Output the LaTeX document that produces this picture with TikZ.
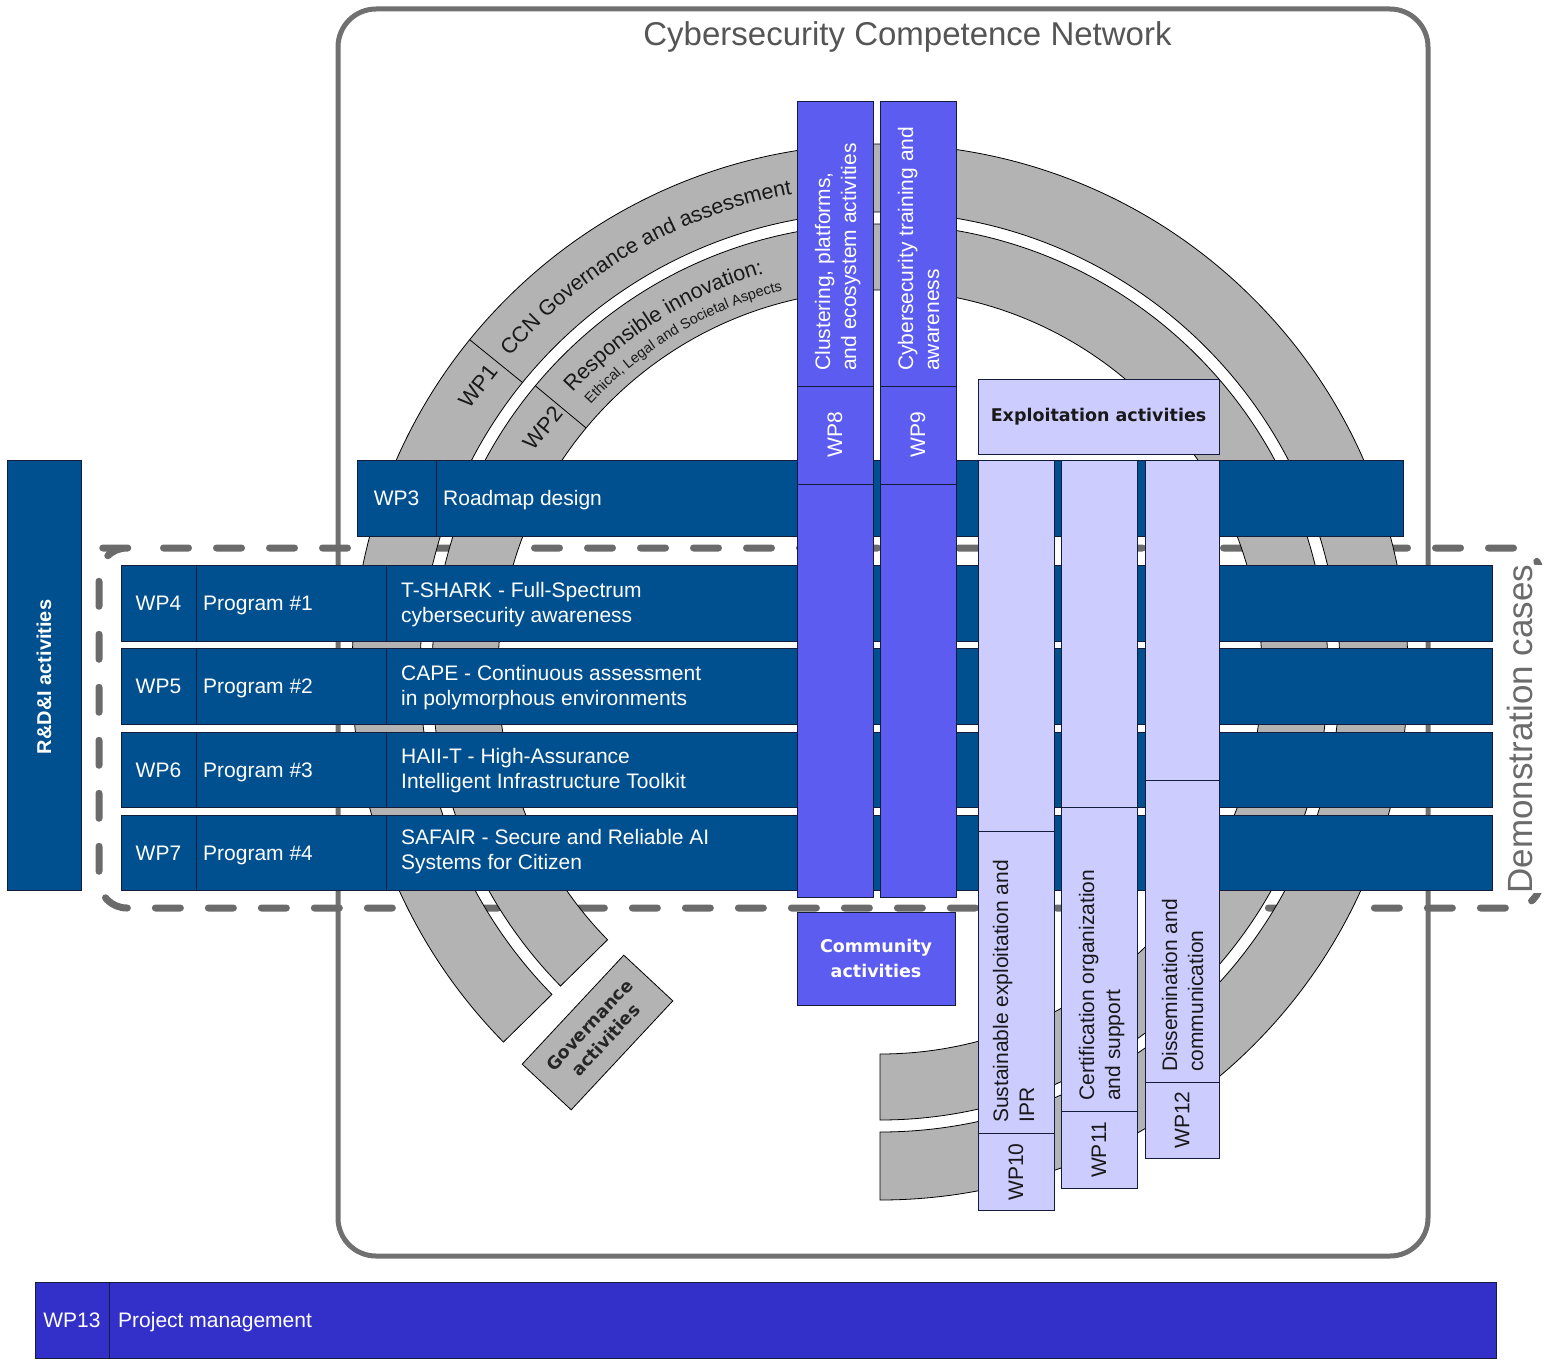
\documentclass[tikz,border=0pt]{standalone}
\usepackage{fontspec}
\setmainfont{Liberation Sans}
\newfontfamily\djfont{DejaVu Sans}
\usetikzlibrary{decorations.text}
\definecolor{dkblue}{RGB}{0,80,143}
\definecolor{midblue}{RGB}{92,92,240}
\definecolor{lav}{RGB}{204,204,255}
\definecolor{pmblue}{RGB}{50,48,200}
\definecolor{bandgray}{RGB}{179,179,179}
\definecolor{edge}{RGB}{20,28,60}
\definecolor{framegray}{RGB}{112,112,112}
\definecolor{titlegray}{RGB}{85,85,85}
\definecolor{dashgray}{RGB}{107,107,107}
\newcommand\barf{\fontsize{21pt}{25pt}\selectfont}
\newcommand\titlef{\fontsize{33pt}{33pt}\selectfont}
\newcommand\ccnf{\fontsize{21.5pt}{21.5pt}\selectfont}
\newcommand\ethf{\fontsize{14.5pt}{14.5pt}\selectfont}
\newcommand\boldf{\djfont\bfseries\fontsize{17.5pt}{25pt}\selectfont}
\newcommand\govf{\djfont\bfseries\fontsize{17.5pt}{22pt}\selectfont}
\newcommand\rdf{\bfseries\fontsize{20pt}{20pt}\selectfont}
\newcommand\demof{\fontsize{35pt}{35pt}\selectfont}
\begin{document}
\begin{tikzpicture}[x=1pt,y=1pt,
  darkbar/.style={fill=dkblue, draw=edge, line width=1pt},
  midbox/.style={fill=midblue, draw=edge, line width=1pt},
  lavbox/.style={fill=lav, draw=edge, line width=1pt},
  pmbar/.style={fill=pmblue, draw=edge, line width=1pt},
  divline/.style={draw=edge, line width=1pt},
  band/.style={fill=bandgray, draw=black, line width=0.8pt},
  wtxt/.style={text=white, font=\barf, inner sep=0pt},
  ktxt/.style={text=black!90, font=\barf, inner sep=0pt},
  vtxt/.style={rotate=90, anchor=base west},
  arctxt/.style={decorate, decoration={text along path, text align=center, text color=black!90}}
]
\useasboundingbox (0,0) rectangle (1549,-1362);

% network frame
\draw[framegray, line width=5pt, rounded corners=38pt] (338,-9) rectangle (1428,-1256);
\node[font=\titlef, text=titlegray, anchor=base, inner sep=0pt] (title) at (907.5,-46) {Cybersecurity Competence Network};

% demonstration cases dashed frame
\draw[dashgray, line width=7pt, dash pattern=on 25pt off 28pt, dash phase=44.5pt, line cap=round, rounded corners=28pt]
  (127,-548) -- (1541,-548) -- (1541,-908) -- (99,-908) -- (99,-548) -- cycle;

% governance rings
\coordinate (C) at (880,-672);
\filldraw[band] ([shift={(224.5:528pt)}]C) arc[start angle=224.5, end angle=-90, radius=528pt]
  -- ([shift={(-90:460pt)}]C) arc[start angle=-90, end angle=224.5, radius=460pt] -- cycle;
\filldraw[band] ([shift={(224.5:448pt)}]C) arc[start angle=224.5, end angle=-90, radius=448pt]
  -- ([shift={(-90:382pt)}]C) arc[start angle=-90, end angle=224.5, radius=382pt] -- cycle;
\draw[black, line width=0.8pt] ([shift={(141:460pt)}]C) -- ([shift={(141:528pt)}]C);
\draw[black, line width=0.8pt] ([shift={(140.3:382pt)}]C) -- ([shift={(140.3:448pt)}]C);
\node[rotate=52, font=\fontsize{22pt}{22pt}\selectfont, text=black!90, inner sep=0pt] (wp1) at (478,-386) {WP1};
\node[rotate=51, font=\fontsize{22pt}{22pt}\selectfont, text=black!90, inner sep=0pt] (wp2) at (543,-428) {WP2};
\path[arctxt, decoration={text={|\ccnf|CCN Governance and assessment}}]
  ([shift={(141:486pt)}]C) arc[start angle=141, end angle=99, radius=486pt];
\path[arctxt, decoration={text={|\ccnf|Responsible innovation:}}]
  ([shift={(140:415pt)}]C) arc[start angle=140, end angle=104, radius=415pt];
\path[arctxt, decoration={text={|\ethf|Ethical, Legal and Societal Aspects}}]
  ([shift={(140:394pt)}]C) arc[start angle=140, end angle=101.6, radius=394pt];
\node[band, rotate=47, minimum width=149pt, minimum height=67pt, inner sep=0pt, align=center,
  font=\govf, text=black!85] (gov) at (597.5,-1032.5) {Governance\\activities};

% R&D&I activities
\draw[darkbar] (7,-460) rectangle (81,-890);
\node[rotate=90, text=white, font=\rdf, inner sep=0pt] (rdi) at (44,-677) {R\&D\&I activities};

% WP3
\draw[darkbar] (357,-460) rectangle (1403,-536);
\draw[divline] (436,-460) -- (436,-536);
\node[wtxt, anchor=base] (wp3) at (396.5,-505.5) {WP3};
\node[wtxt, anchor=base west] (wp3t) at (443,-505.5) {Roadmap design};

% WP4 - WP7
\draw[darkbar] (121,-565) rectangle (1492,-641);
\draw[darkbar] (121,-648) rectangle (1492,-724);
\draw[darkbar] (121,-732) rectangle (1492,-807);
\draw[darkbar] (121,-815) rectangle (1492,-890);
\foreach \t/\b in {565/641,648/724,732/807,815/890}{
  \draw[divline] (196,-\t) -- (196,-\b);
  \draw[divline] (386,-\t) -- (386,-\b);
}
\node[wtxt, anchor=base] (wp4) at (158.5,-610.5) {WP4};
\node[wtxt, anchor=base west] (p1) at (203,-610.5) {Program \#1};
\node[wtxt, anchor=base west] (t1a) at (401,-597) {T-SHARK - Full-Spectrum};
\node[wtxt, anchor=base west] (t1b) at (401,-622) {cybersecurity awareness};
\node[wtxt, anchor=base] (wp5) at (158.5,-693.5) {WP5};
\node[wtxt, anchor=base west] (p2) at (203,-693.5) {Program \#2};
\node[wtxt, anchor=base west] (t2a) at (401,-680) {CAPE - Continuous assessment};
\node[wtxt, anchor=base west] (t2b) at (401,-705) {in polymorphous environments};
\node[wtxt, anchor=base] (wp6) at (158.5,-777) {WP6};
\node[wtxt, anchor=base west] (p3) at (203,-777) {Program \#3};
\node[wtxt, anchor=base west] (t3a) at (401,-763.5) {HAII-T - High-Assurance};
\node[wtxt, anchor=base west] (t3b) at (401,-788.5) {Intelligent Infrastructure Toolkit};
\node[wtxt, anchor=base] (wp7) at (158.5,-860) {WP7};
\node[wtxt, anchor=base west] (p4) at (203,-860) {Program \#4};
\node[wtxt, anchor=base west] (t4a) at (401,-844) {SAFAIR - Secure and Reliable AI};
\node[wtxt, anchor=base west] (t4b) at (401,-869) {Systems for Citizen};

% WP8, WP9, community
\draw[midbox] (797,-102) rectangle (873,-897);
\draw[divline] (797,-386) -- (873,-386);
\draw[divline] (797,-484) -- (873,-484);
\draw[midbox] (880,-102) rectangle (956,-897);
\draw[divline] (880,-386) -- (956,-386);
\draw[divline] (880,-484) -- (956,-484);
\node[wtxt, vtxt] (c8a) at (830,-371) {Clustering, platforms,};
\node[wtxt, vtxt] (c8b) at (856,-371) {and ecosystem activities};
\node[wtxt, rotate=90] (wp8) at (835,-435) {WP8};
\node[wtxt, vtxt] (c9a) at (913,-371) {Cybersecurity training and};
\node[wtxt, vtxt] (c9b) at (939,-371) {awareness};
\node[wtxt, rotate=90] (wp9) at (918,-435) {WP9};
\draw[midbox] (797,-912) rectangle (955,-1005);
\node[text=white, font=\boldf, align=center, inner sep=0pt] (comm) at (876,-958) {Community\\activities};

% exploitation
\draw[lavbox] (978,-379) rectangle (1219,-454);
\node[text=black!90, font=\boldf, inner sep=0pt] (expl) at (1098.5,-416.5) {Exploitation activities};
\draw[lavbox] (978,-460) rectangle (1054,-1210);
\draw[divline] (978,-831) -- (1054,-831);
\draw[divline] (978,-1133) -- (1054,-1133);
\draw[lavbox] (1061,-460) rectangle (1137,-1188);
\draw[divline] (1061,-807) -- (1137,-807);
\draw[divline] (1061,-1111) -- (1137,-1111);
\draw[lavbox] (1145,-460) rectangle (1219,-1158);
\draw[divline] (1145,-780) -- (1219,-780);
\draw[divline] (1145,-1082) -- (1219,-1082);
\node[ktxt, vtxt] (c10a) at (1008,-1123) {Sustainable exploitation and};
\node[ktxt, vtxt] (c10b) at (1034,-1123) {IPR};
\node[ktxt, rotate=90] (wp10) at (1016,-1172) {WP10};
\node[ktxt, vtxt] (c11a) at (1094,-1101) {Certification organization};
\node[ktxt, vtxt] (c11b) at (1120,-1101) {and support};
\node[ktxt, rotate=90] (wp11) at (1099,-1150) {WP11};
\node[ktxt, vtxt] (c12a) at (1177,-1072) {Dissemination and};
\node[ktxt, vtxt] (c12b) at (1203,-1072) {communication};
\node[ktxt, rotate=90] (wp12) at (1182,-1120) {WP12};

% demonstration label
\node[rotate=90, fill=white, text=dashgray, font=\demof, inner xsep=0pt, inner ysep=12pt] (demo) at (1520,-729) {Demonstration cases};

% WP13
\draw[pmbar] (35,-1282) rectangle (1496,-1358);
\draw[divline] (109,-1282) -- (109,-1358);
\node[wtxt, anchor=base] (wp13) at (72,-1327) {WP13};
\node[wtxt, anchor=base west] (pm) at (118,-1327) {Project management};
\end{tikzpicture}
\end{document}
